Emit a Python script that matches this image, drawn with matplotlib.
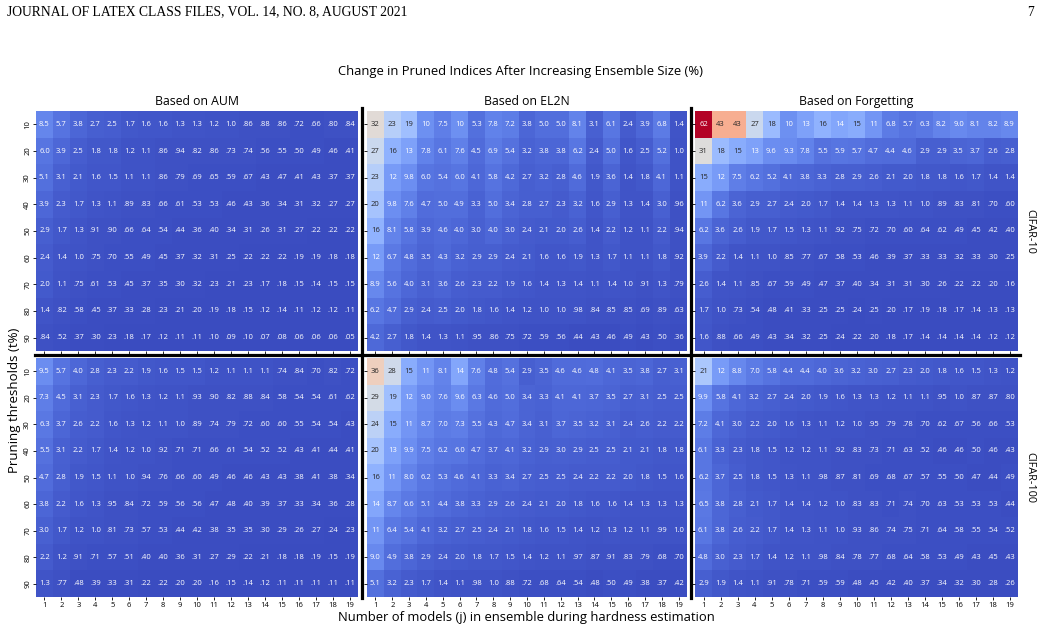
import numpy as np
import matplotlib
matplotlib.use("Agg")
import matplotlib.pyplot as plt
from matplotlib.lines import Line2D
from matplotlib.colors import to_rgb

plt.rcParams['font.family'] = ['Open Sans', 'DejaVu Sans']

thresholds = [10, 20, 30, 40, 50, 60, 70, 80, 90]
models = list(range(1, 20))

# CIFAR-10
aum_c10 = [
    [8.5, 5.7, 3.8, 2.7, 2.5, 1.7, 1.6, 1.6, 1.3, 1.3, 1.2, 1.0, .86, .88, .86, .72, .66, .80, .84],
    [6.0, 3.9, 2.5, 1.8, 1.8, 1.2, 1.1, .86, .94, .82, .86, .73, .74, .56, .55, .50, .49, .46, .41],
    [5.1, 3.1, 2.1, 1.6, 1.5, 1.1, 1.1, .86, .79, .69, .65, .59, .67, .43, .47, .41, .43, .37, .37],
    [3.9, 2.3, 1.7, 1.3, 1.1, .89, .83, .66, .61, .53, .53, .46, .43, .36, .34, .31, .32, .27, .27],
    [2.9, 1.7, 1.3, .91, .90, .66, .64, .54, .44, .36, .40, .34, .31, .26, .31, .27, .22, .22, .22],
    [2.4, 1.4, 1.0, .75, .70, .55, .49, .45, .37, .32, .31, .25, .22, .22, .22, .19, .19, .18, .18],
    [2.0, 1.1, .75, .61, .53, .45, .37, .35, .30, .32, .23, .21, .23, .17, .18, .15, .14, .15, .15],
    [1.4, .82, .58, .45, .37, .33, .28, .23, .21, .20, .19, .18, .15, .12, .14, .11, .12, .12, .11],
    [.84, .52, .37, .30, .23, .18, .17, .12, .11, .11, .10, .09, .10, .07, .08, .06, .06, .06, .05],
]
el2n_c10 = [
    [32, 23, 19, 10, 7.5, 10, 5.3, 7.8, 7.2, 3.8, 5.0, 5.0, 8.1, 3.1, 6.1, 2.4, 3.9, 6.8, 1.4],
    [27, 16, 13, 7.8, 6.1, 7.6, 4.5, 6.9, 5.4, 3.2, 3.8, 3.8, 6.2, 2.4, 5.0, 1.6, 2.5, 5.2, 1.0],
    [23, 12, 9.8, 6.0, 5.4, 6.0, 4.1, 5.8, 4.2, 2.7, 3.2, 2.8, 4.6, 1.9, 3.6, 1.4, 1.8, 4.1, 1.1],
    [20, 9.8, 7.6, 4.7, 5.0, 4.9, 3.3, 5.0, 3.4, 2.8, 2.7, 2.3, 3.2, 1.6, 2.9, 1.3, 1.4, 3.0, .96],
    [16, 8.1, 5.8, 3.9, 4.6, 4.0, 3.0, 4.0, 3.0, 2.4, 2.1, 2.0, 2.6, 1.4, 2.2, 1.2, 1.1, 2.2, .94],
    [12, 6.7, 4.8, 3.5, 4.3, 3.2, 2.9, 2.9, 2.4, 2.1, 1.6, 1.6, 1.9, 1.3, 1.7, 1.1, 1.1, 1.8, .92],
    [8.9, 5.6, 4.0, 3.1, 3.6, 2.6, 2.3, 2.2, 1.9, 1.6, 1.4, 1.3, 1.4, 1.1, 1.4, 1.0, .91, 1.3, .79],
    [6.2, 4.7, 2.9, 2.4, 2.5, 2.0, 1.8, 1.6, 1.4, 1.2, 1.0, 1.0, .98, .84, .85, .85, .69, .89, .63],
    [4.2, 2.7, 1.8, 1.4, 1.3, 1.1, .95, .86, .75, .72, .59, .56, .44, .43, .46, .49, .43, .50, .36],
]
forg_c10 = [
    [62, 43, 43, 27, 18, 10, 13, 16, 14, 15, 11, 6.8, 5.7, 6.3, 8.2, 9.0, 8.1, 8.2, 8.9],
    [31, 18, 15, 13, 9.6, 9.3, 7.8, 5.5, 5.9, 5.7, 4.7, 4.4, 4.6, 2.9, 2.9, 3.5, 3.7, 2.6, 2.8],
    [15, 12, 7.5, 6.2, 5.2, 4.1, 3.8, 3.3, 2.8, 2.9, 2.6, 2.1, 2.0, 1.8, 1.8, 1.6, 1.7, 1.4, 1.4],
    [11, 6.2, 3.6, 2.9, 2.7, 2.4, 2.0, 1.7, 1.4, 1.4, 1.3, 1.3, 1.1, 1.0, .89, .83, .81, .70, .60],
    [6.2, 3.6, 2.6, 1.9, 1.7, 1.5, 1.3, 1.1, .92, .75, .72, .70, .60, .64, .62, .49, .45, .42, .40],
    [3.9, 2.2, 1.4, 1.1, 1.0, .85, .77, .67, .58, .53, .46, .39, .37, .33, .33, .32, .33, .30, .25],
    [2.6, 1.4, 1.1, .85, .67, .59, .49, .47, .37, .40, .34, .31, .31, .30, .26, .22, .22, .20, .16],
    [1.7, 1.0, .73, .54, .48, .41, .33, .25, .25, .24, .25, .20, .17, .19, .18, .17, .14, .13, .13],
    [1.6, .88, .66, .49, .43, .34, .32, .25, .24, .22, .20, .18, .17, .14, .14, .14, .14, .12, .12],
]

# CIFAR-100
aum_c100 = [
    [9.5, 5.7, 4.0, 2.8, 2.3, 2.2, 1.9, 1.6, 1.5, 1.5, 1.2, 1.1, 1.1, 1.1, .74, .84, .70, .82, .72],
    [7.3, 4.5, 3.1, 2.3, 1.7, 1.6, 1.3, 1.2, 1.1, .93, .90, .82, .88, .84, .58, .54, .54, .61, .62],
    [6.3, 3.7, 2.6, 2.2, 1.6, 1.3, 1.2, 1.1, 1.0, .89, .74, .79, .72, .60, .60, .55, .54, .54, .43],
    [5.5, 3.1, 2.2, 1.7, 1.4, 1.2, 1.0, .92, .71, .71, .66, .61, .54, .52, .52, .43, .41, .44, .41],
    [4.7, 2.8, 1.9, 1.5, 1.1, 1.0, .94, .76, .66, .60, .49, .46, .46, .43, .43, .38, .41, .38, .34],
    [3.8, 2.2, 1.6, 1.3, .95, .84, .72, .59, .56, .56, .47, .48, .40, .39, .37, .33, .34, .36, .28],
    [3.0, 1.7, 1.2, 1.0, .81, .73, .57, .53, .44, .42, .38, .35, .35, .30, .29, .26, .27, .24, .23],
    [2.2, 1.2, .91, .71, .57, .51, .40, .40, .36, .31, .27, .29, .22, .21, .18, .18, .19, .15, .19],
    [1.3, .77, .48, .39, .33, .31, .22, .22, .20, .20, .16, .15, .14, .12, .11, .11, .11, .11, .11],
]
el2n_c100 = [
    [36, 28, 15, 11, 8.1, 14, 7.6, 4.8, 5.4, 2.9, 3.5, 4.6, 4.6, 4.8, 4.1, 3.5, 3.8, 2.7, 3.1],
    [29, 19, 12, 9.0, 7.6, 9.6, 6.3, 4.6, 5.0, 3.4, 3.3, 4.1, 4.1, 3.7, 3.5, 2.7, 3.1, 2.5, 2.5],
    [24, 15, 11, 8.7, 7.0, 7.3, 5.5, 4.3, 4.7, 3.4, 3.1, 3.7, 3.5, 3.2, 3.1, 2.4, 2.6, 2.2, 2.2],
    [20, 13, 9.9, 7.5, 6.2, 6.0, 4.7, 3.7, 4.1, 3.2, 2.9, 3.0, 2.9, 2.5, 2.5, 2.1, 2.1, 1.8, 1.8],
    [16, 11, 8.0, 6.2, 5.3, 4.6, 4.1, 3.3, 3.4, 2.7, 2.5, 2.5, 2.4, 2.2, 2.2, 2.0, 1.8, 1.5, 1.6],
    [14, 8.7, 6.6, 5.1, 4.4, 3.8, 3.3, 2.9, 2.6, 2.4, 2.1, 2.0, 1.8, 1.6, 1.6, 1.4, 1.3, 1.3, 1.3],
    [11, 6.4, 5.4, 4.1, 3.2, 2.7, 2.5, 2.4, 2.1, 1.8, 1.6, 1.5, 1.4, 1.2, 1.3, 1.2, 1.1, .99, 1.0],
    [9.0, 4.9, 3.8, 2.9, 2.4, 2.0, 1.8, 1.7, 1.5, 1.4, 1.2, 1.1, .97, .87, .91, .83, .79, .68, .70],
    [5.1, 3.2, 2.3, 1.7, 1.4, 1.1, .98, 1.0, .88, .72, .68, .64, .54, .48, .50, .49, .38, .37, .42],
]
forg_c100 = [
    [21, 12, 8.8, 7.0, 5.8, 4.4, 4.4, 4.0, 3.6, 3.2, 3.0, 2.7, 2.3, 2.0, 1.8, 1.6, 1.5, 1.3, 1.2],
    [9.9, 5.8, 4.1, 3.2, 2.7, 2.4, 2.0, 1.9, 1.6, 1.3, 1.3, 1.2, 1.1, 1.1, .95, 1.0, .87, .87, .80],
    [7.2, 4.1, 3.0, 2.2, 2.0, 1.6, 1.3, 1.1, 1.2, 1.0, .95, .79, .78, .70, .62, .67, .56, .66, .53],
    [6.1, 3.3, 2.3, 1.8, 1.5, 1.2, 1.2, 1.1, .92, .83, .73, .71, .63, .52, .46, .46, .50, .46, .43],
    [6.2, 3.7, 2.5, 1.8, 1.5, 1.3, 1.1, .98, .87, .81, .69, .68, .67, .57, .55, .50, .47, .44, .49],
    [6.5, 3.8, 2.8, 2.1, 1.7, 1.4, 1.4, 1.2, 1.0, .83, .83, .71, .74, .70, .63, .53, .53, .53, .44],
    [6.1, 3.8, 2.6, 2.2, 1.7, 1.4, 1.3, 1.1, 1.0, .93, .86, .74, .75, .71, .64, .58, .55, .54, .52],
    [4.8, 3.0, 2.3, 1.7, 1.4, 1.2, 1.1, .98, .84, .78, .77, .68, .64, .58, .53, .49, .43, .45, .43],
    [2.9, 1.9, 1.4, 1.1, .91, .78, .71, .59, .59, .48, .45, .42, .40, .37, .34, .32, .30, .28, .26],
]

panel_titles = ["Based on AUM", "Based on EL2N", "Based on Forgetting"]
row_labels = ["CIFAR-10", "CIFAR-100"]
grid = [[aum_c10, el2n_c10, forg_c10], [aum_c100, el2n_c100, forg_c100]]

W, H = 1041, 632
fig = plt.figure(figsize=(W / 100, H / 100), dpi=100)

cmap = plt.get_cmap("coolwarm")
vmax = max(np.max(m) for row in grid for m in row)
norm = plt.Normalize(0, vmax)


def fmt(v):
    if v >= 10:
        return f"{v:.0f}"
    if v >= 1:
        return f"{v:.1f}"
    return f"{v:.2f}".lstrip("0")


def lum(c):
    rgb = np.array(to_rgb(c))
    rgb = np.where(rgb <= .03928, rgb / 12.92, ((rgb + .055) / 1.055) ** 2.4)
    return .2126 * rgb[0] + .7152 * rgb[1] + .0722 * rgb[2]


# pixel boxes: (left, width) per column, (top, bottom) per row
cols_px = [(36, 322), (367, 320), (695, 323)]
rows_px = [(111, 351), (358, 597)]

for r, (top, bot) in enumerate(rows_px):
    for c, (left, width) in enumerate(cols_px):
        ax = fig.add_axes([left / W, 1 - bot / H, width / W, (bot - top) / H])
        data = np.array(grid[r][c], dtype=float)
        ax.imshow(data, cmap=cmap, norm=norm, aspect="auto", interpolation="nearest")
        for i in range(data.shape[0]):
            for j in range(data.shape[1]):
                col = cmap(norm(data[i, j]))
                tc = ".15" if lum(col) > .408 else "w"
                ax.text(j, i, fmt(data[i, j]), ha="center", va="center",
                        fontsize=5.5, color=tc)
        for s in ax.spines.values():
            s.set_visible(False)
        ax.set_xticks(range(len(models)))
        ax.set_yticks(range(len(thresholds)))
        ax.tick_params(length=2, width=0.6, labelsize=5.5, pad=1.5)
        if r == 1:
            ax.set_xticklabels(models)
        else:
            ax.set_xticklabels([])
        if c == 0:
            ax.set_yticklabels(thresholds, rotation=90, va="center")
        else:
            ax.set_yticklabels([])
        if r == 0:
            ax.set_title(panel_titles[c], fontsize=8.8, pad=4)
        if c == 2:
            ax.text(1.02, 0.5, row_labels[r], transform=ax.transAxes, rotation=-90,
                    ha="left", va="center", fontsize=7.8)

# black separators between panels
for x in (361.5, 690.8):
    fig.add_artist(Line2D([x / W, x / W], [1 - 108 / H, 1 - 598 / H], color="black", lw=2.3))
fig.add_artist(Line2D([35 / W, 1020 / W], [1 - 354.5 / H, 1 - 354.5 / H], color="black", lw=2.3))

fig.text(520 / W, 1 - 72 / H, "Change in Pruned Indices After Increasing Ensemble Size (%)",
         ha="center", va="center", fontsize=9.4)
fig.text(526 / W, 1 - 618 / H, "Number of models (j) in ensemble during hardness estimation",
         ha="center", va="center", fontsize=9.4)
fig.text(15 / W, 1 - 400 / H, "Pruning thresholds (t%)", rotation=90,
         ha="center", va="center", fontsize=9.5)

# page header
fig.text(7 / W, 1 - 12 / H, "JOURNAL OF LATEX CLASS FILES, VOL. 14, NO. 8, AUGUST 2021",
         ha="left", va="center", fontsize=9.8, family="Liberation Serif")
fig.text(1034 / W, 1 - 12 / H, "7", ha="right", va="center", fontsize=9.8,
         family="Liberation Serif")

fig.savefig("out.png", dpi=100)
